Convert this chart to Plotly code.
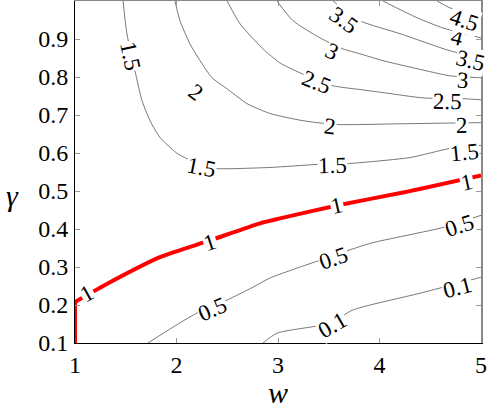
import math
import plotly.graph_objects as go

# contour lines: (w, gamma) points for each level
w_01 = [2.852, 2.990, 3.512, 3.739, 4.399, 5.0]
g_01 = [0.100, 0.126, 0.152, 0.187, 0.231, 0.273]

w_05 = [1.719, 1.966, 2.202, 2.498, 2.754, 2.921, 3.414, 3.906, 4.626, 5.0]
g_05 = [0.100, 0.142, 0.179, 0.213, 0.247, 0.271, 0.318, 0.362, 0.404, 0.436]

w_1 = [1.0, 1.0, 1.345, 1.837, 2.330, 2.823, 3.020, 3.581, 4.232, 5.0]
g_1 = [0.100, 0.208, 0.260, 0.326, 0.370, 0.415, 0.428, 0.462, 0.496, 0.541]

w_15 = [1.473, 1.512, 1.591, 1.660, 1.739, 1.837, 2.005, 2.103, 2.251, 2.399,
        2.921, 3.394, 3.680, 4.300, 4.695, 5.0]
g_15 = [1.000, 0.913, 0.816, 0.738, 0.685, 0.641, 0.599, 0.585, 0.567, 0.559,
        0.562, 0.570, 0.572, 0.588, 0.612, 0.620]

w_2 = [1.985, 2.034, 2.133, 2.232, 2.350, 2.498, 2.695, 2.921, 3.246, 3.581, 4.232, 5.0]
g_2 = [1.000, 0.948, 0.887, 0.843, 0.798, 0.769, 0.730, 0.704, 0.685, 0.675, 0.677, 0.680]

w_25 = [2.498, 2.626, 2.852, 3.020, 3.217, 3.542, 3.808, 4.034, 4.429, 4.823, 5.0]
g_25 = [1.000, 0.940, 0.874, 0.837, 0.811, 0.777, 0.767, 0.759, 0.745, 0.743, 0.740]

w_3 = [2.990, 3.148, 3.414, 3.640, 3.808, 4.034, 4.369, 4.695, 5.0]
g_3 = [1.000, 0.948, 0.903, 0.874, 0.861, 0.843, 0.822, 0.803, 0.798]

w_35 = [3.542, 3.808, 4.202, 4.695, 5.0]
g_35 = [1.000, 0.948, 0.914, 0.869, 0.850]

w_4 = [4.034, 4.369, 4.626, 5.0]
g_4 = [1.000, 0.956, 0.929, 0.903]

w_45 = [4.567, 4.695, 5.0]
g_45 = [1.000, 0.982, 0.955]

lines = {
    "0.1": (w_01, g_01), "0.5": (w_05, g_05), "1": (w_1, g_1),
    "1.5": (w_15, g_15), "2": (w_2, g_2), "2.5": (w_25, g_25),
    "3": (w_3, g_3), "3.5": (w_35, g_35), "4": (w_4, g_4), "4.5": (w_45, g_45),
}

# inline contour labels
lab_text = ["0.1", "0.1", "0.5", "0.5", "0.5", "1", "1", "1", "1",
            "1.5", "1.5", "1.5", "1.5", "2", "2", "2", "2.5", "2.5",
            "3", "3", "3.5", "3.5", "4", "4.5"]
lab_w = [3.532, 4.773, 2.350, 3.542, 4.793, 1.118, 2.330, 3.581, 4.862,
         1.542, 2.251, 3.532, 4.842, 2.192, 3.512, 4.813, 3.384, 4.665,
         3.532, 4.823, 3.650, 4.892, 4.764, 4.842]
lab_g = [0.147, 0.247, 0.189, 0.323, 0.410, 0.231, 0.365, 0.462, 0.522,
         0.856, 0.562, 0.567, 0.601, 0.759, 0.669, 0.672, 0.785, 0.735,
         0.866, 0.790, 0.948, 0.843, 0.903, 0.950]

W, H = 488, 406
ML, MR, MT, MB = 75, 7, 1, 63
XR = [1, 5]
YR = [0.1, 1.0]
sx = (W - ML - MR) / (XR[1] - XR[0])
sy = (H - MT - MB) / (YR[1] - YR[0])

SERIF = "Times New Roman, Liberation Serif, DejaVu Serif, serif"

fig = go.Figure()
for lev, (xs, ys) in lines.items():
    if lev == "1":
        # the red level: straight up the w=1 edge, then the curve
        fig.add_trace(go.Scatter(x=xs[:2], y=ys[:2], mode="lines", showlegend=False,
                                 hoverinfo="skip", line=dict(color="#ff0000", width=4)))
        fig.add_trace(go.Scatter(x=xs[1:], y=ys[1:], mode="lines", showlegend=False,
                                 hoverinfo="skip",
                                 line=dict(color="#ff0000", width=4, shape="spline", smoothing=0.6)))
    else:
        fig.add_trace(go.Scatter(x=xs, y=ys, mode="lines", showlegend=False, hoverinfo="skip",
                                 line=dict(color="#555555", width=0.8, shape="spline", smoothing=0.6)))


def label_angle(text, w, g):
    xs, ys = lines[text]
    best, bi = None, 0
    for i in range(len(xs) - 1):
        mx = (xs[i] + xs[i + 1]) / 2
        my = (ys[i] + ys[i + 1]) / 2
        d = ((mx - w) * sx) ** 2 + ((my - g) * sy) ** 2
        if best is None or d < best:
            best, bi = d, i
    dx = (xs[bi + 1] - xs[bi]) * sx
    dy = -(ys[bi + 1] - ys[bi]) * sy
    ang = math.degrees(math.atan2(dy, dx))
    if ang > 90:
        ang -= 180
    if ang < -90:
        ang += 180
    return ang


for t, w, g in zip(lab_text, lab_w, lab_g):
    fig.add_annotation(
        x=w, y=g, xref="x", yref="y", text=t, showarrow=False,
        textangle=label_angle(t, w, g), bgcolor="white", borderpad=0,
        font=dict(family=SERIF, size=23, color="black"),
    )

# axis titles
fig.add_annotation(x=3, y=-0.146, xref="x", yref="paper", text="<i>w</i>",
                   showarrow=False, yanchor="middle",
                   font=dict(family=SERIF, size=30, color="black"))
fig.add_annotation(x=-0.155, y=0.432, xref="paper", yref="paper", text="<i>γ</i>",
                   showarrow=False, xanchor="center", yanchor="middle",
                   font=dict(family=SERIF, size=30, color="black"))

# gray frame on top and right
fig.add_trace(go.Scatter(x=[None], y=[None], xaxis="x2", yaxis="y2",
                         showlegend=False, hoverinfo="skip"))

tick_font = dict(family=SERIF, size=24, color="black")
fig.update_layout(
    width=W, height=H,
    margin=dict(l=ML, r=MR, t=MT, b=MB),
    plot_bgcolor="white", paper_bgcolor="white",
    xaxis=dict(range=XR, tickvals=[1, 2, 3, 4, 5], ticktext=["1", "2", "3", "4", "5"],
               ticks="inside", ticklen=5, tickcolor="#999999", showgrid=False, zeroline=False,
               showline=True, linecolor="black", linewidth=1, tickfont=tick_font,
               ticklabeloverflow="allow", automargin=False),
    yaxis=dict(range=YR, tickvals=[0.1, 0.2, 0.3, 0.4, 0.5, 0.6, 0.7, 0.8, 0.9],
               ticktext=["0.1", "0.2", "0.3", "0.4", "0.5", "0.6", "0.7", "0.8", "0.9"],
               ticks="inside", ticklen=5, tickcolor="#999999", showgrid=False, zeroline=False,
               showline=True, linecolor="black", linewidth=1, tickfont=tick_font,
               ticklabeloverflow="allow", ticklabelstandoff=1, automargin=False),
    xaxis2=dict(range=XR, overlaying="x", side="top", tickvals=[2, 3, 4],
                ticks="inside", ticklen=5, tickcolor="#999999", showticklabels=False,
                showgrid=False, zeroline=False, showline=True, linecolor="#888888", linewidth=2),
    yaxis2=dict(range=YR, overlaying="y", side="right",
                tickvals=[0.2, 0.3, 0.4, 0.5, 0.6, 0.7, 0.8, 0.9],
                ticks="inside", ticklen=5, tickcolor="#999999", showticklabels=False,
                showgrid=False, zeroline=False, showline=True, linecolor="#888888", linewidth=2),
)

# the page's default body margin would shift the whole chart by 8px
fig.write_html("out.html", config={"displayModeBar": False},
               post_script="document.body.style.margin='0px';")
